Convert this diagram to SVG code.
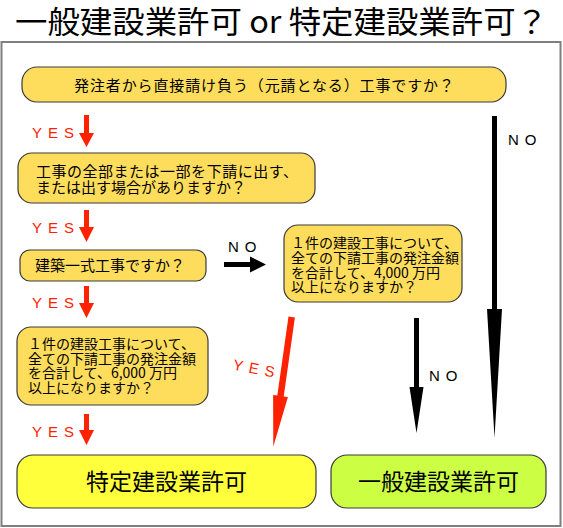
<svg xmlns="http://www.w3.org/2000/svg" width="563" height="528" viewBox="0 0 563 528">
<style>
.jp{font-family:"Noto Sans CJK JP","Noto Sans",sans-serif;fill:#000}
.box{fill:#FFDD5C;stroke:#3a3a3a;stroke-width:1.2}
.lbl{font-family:"Liberation Sans",Arial,sans-serif;font-size:15px;letter-spacing:6px}
.yes{fill:#FF2200}
.no{fill:#000}
.ra{fill:#FF2200}
.ba{fill:#000}
</style>
<rect width="563" height="528" fill="#fff"/>
<text class="jp" x="15" y="33" font-size="31" textLength="533" lengthAdjust="spacingAndGlyphs">一般建設業許可 or 特定建設業許可？</text>
<rect x="1.5" y="42" width="559" height="484" fill="none" stroke="#7f7f7f" stroke-width="2"/>

<g id="q1">
<rect class="box" x="22" y="67" width="484" height="35" rx="15"/>
<text class="jp" x="264" y="90.5" font-size="15" text-anchor="middle" textLength="380">発注者から直接請け負う（元請となる）工事ですか？</text>
</g>
<g id="q2">
<rect class="box" x="18" y="153" width="297" height="50" rx="14"/>
<text class="jp" x="36" y="176.7" font-size="15" textLength="262">工事の全部または一部を下請に出す、</text>
<text class="jp" x="36" y="192.7" font-size="15">または出す場合がありますか？</text>
</g>
<g id="q3">
<rect class="box" x="20" y="250" width="186" height="31" rx="10"/>
<text class="jp" x="35" y="271.2" font-size="15">建築一式工事ですか？</text>
</g>
<g id="q4">
<rect class="box" x="284" y="225" width="178" height="77" rx="14"/>
<text class="jp" x="291" y="248.3" font-size="14">１件の建設工事について、</text>
<text class="jp" x="291" y="263" font-size="14">全ての下請工事の発注金額</text>
<text class="jp" x="291" y="277.6" font-size="14">を合計して、4,000 万円</text>
<text class="jp" x="291" y="292.3" font-size="14">以上になりますか？</text>
</g>
<g id="q5">
<rect class="box" x="17" y="327" width="191" height="78" rx="14"/>
<text class="jp" x="28" y="349.3" font-size="14">１件の建設工事について、</text>
<text class="jp" x="28" y="363.8" font-size="14">全ての下請工事の発注金額</text>
<text class="jp" x="28" y="378.3" font-size="14">を合計して、6,000 万円</text>
<text class="jp" x="28" y="392.8" font-size="14">以上になりますか？</text>
</g>
<g id="tokutei">
<rect x="17" y="455" width="299" height="53" rx="16" fill="#FFFF3C" stroke="#3a3a3a" stroke-width="1.2"/>
<text class="jp" x="166.5" y="490" font-size="23" text-anchor="middle">特定建設業許可</text>
</g>
<g id="ippan">
<rect x="331" y="455" width="215" height="53" rx="16" fill="#CCFF44" stroke="#3a3a3a" stroke-width="1.2"/>
<text class="jp" x="438.5" y="490" font-size="23" text-anchor="middle">一般建設業許可</text>
</g>

<g id="connectors">
<polygon class="ra" points="84,115 89,115 89,133 94,133 86.5,147 79,133 84,133"/>
<polygon class="ra" points="84,210 89,210 89,227 94,227 86.5,242 79,227 84,227"/>
<polygon class="ra" points="84,286 89,286 89,303 94,303 86.5,318 79,303 84,303"/>
<polygon class="ra" points="84,414 89,414 89,430 94,430 86.5,445 79,430 84,430"/>
<polygon class="ra" points="288.5,316.6 294.9,317.4 283.7,396.5 287.9,397.1 273.3,446.7 273.1,394.9 277.3,395.6"/>
<polygon class="ba" points="224,262 250,262 250,256.5 266,264.5 250,272.5 250,267 224,267"/>
<polygon class="ba" points="492,116 497,116 497,309 502,309 494.5,438 487,309 492,309"/>
<polygon class="ba" points="414,318 419,318 419,387 423.5,387 416.5,433 409.5,387 414,387"/>
<text class="lbl yes" x="32" y="137.5">YES</text>
<text class="lbl yes" x="32" y="232.5">YES</text>
<text class="lbl yes" x="32" y="307.5">YES</text>
<text class="lbl yes" x="32" y="436.5">YES</text>
<text class="lbl yes" x="233" y="373.5" transform="rotate(11 254 368)">YES</text>
<text class="lbl no" x="228" y="251.5">NO</text>
<text class="lbl no" x="508" y="144.5">NO</text>
<text class="lbl no" x="429" y="380.5">NO</text>
</g>
</svg>
